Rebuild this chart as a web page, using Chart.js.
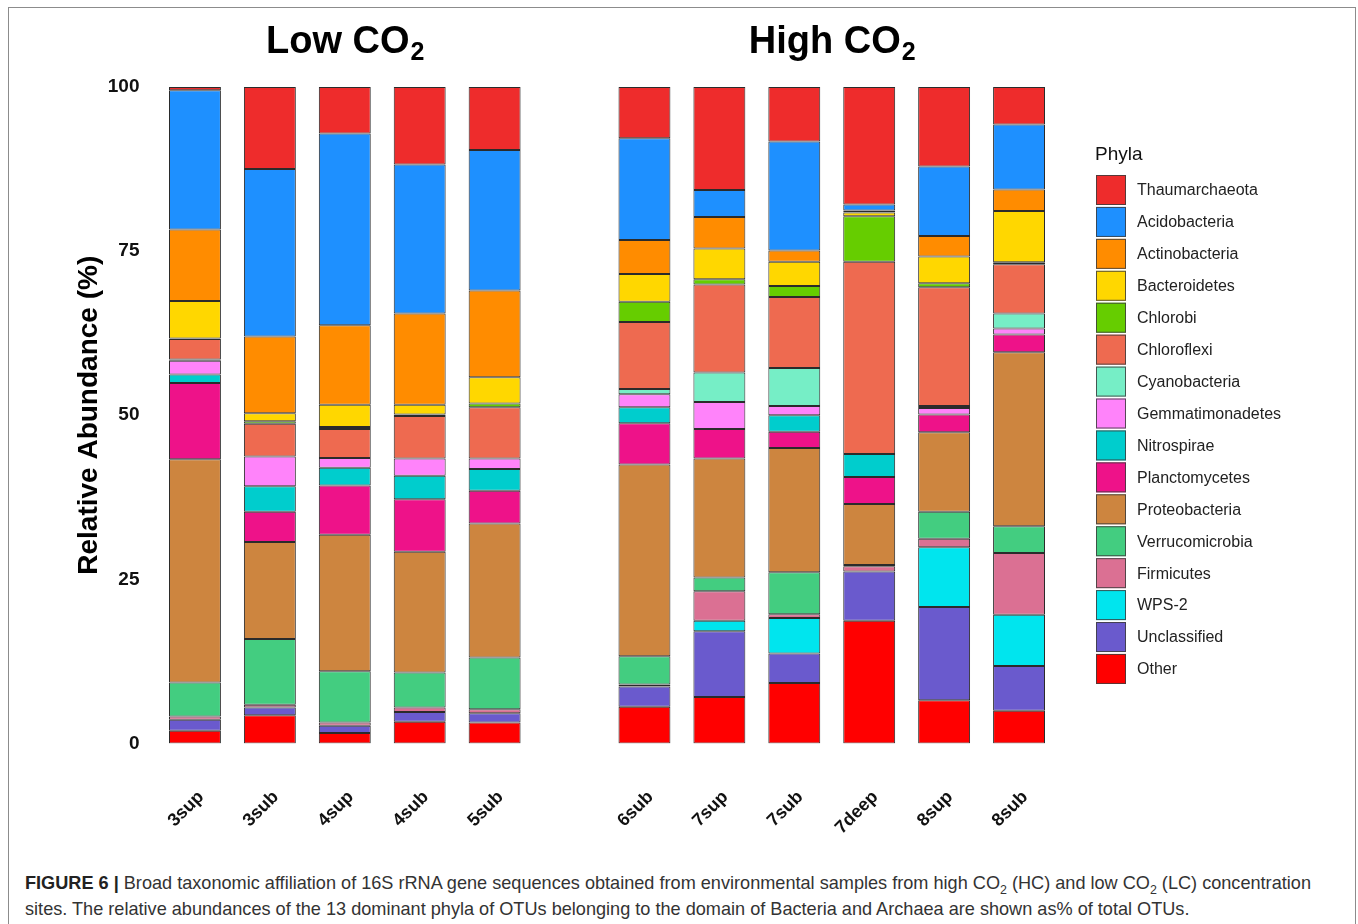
<!DOCTYPE html>
<html>
<head>
<meta charset="utf-8">
<script src="https://cdn.jsdelivr.net/npm/chart.js@4.4.1/dist/chart.umd.min.js"></script>
<style>
  html, body { margin: 0; padding: 0; background: #fff; }
  body { width: 1358px; height: 924px; overflow: hidden; position: relative; font-family: "Liberation Sans", Arial, sans-serif; }
  #frame { position: absolute; left: 8px; top: 7px; width: 1348px; height: 980px; border: 1px solid #8c8c8c; box-sizing: border-box; }
  #chart { position: absolute; left: 0; top: 0; }
  #caption { position: absolute; left: 25px; top: 870px; font-family: "Liberation Sans", Arial, sans-serif; font-size: 19px; line-height: 26px; color: #333; white-space: nowrap; transform-origin: 0 0; }
  #caption span { display: inline-block; }
  #caption b { color: #222; }
  #caption sub { font-size: 13px; line-height: 0; }
</style>
</head>
<body>
<div id="frame"></div>
<canvas id="chart" width="1358" height="860"></canvas>
<div id="caption"><span id="capLine1"><b>FIGURE 6 |</b> Broad taxonomic affiliation of 16S rRNA gene sequences obtained from environmental samples from high CO<sub>2</sub> (HC) and low CO<sub>2</sub> (LC) concentration</span><br><span>sites. The relative abundances of the 13 dominant phyla of OTUs belonging to the domain of Bacteria and Archaea are shown as% of total OTUs.</span></div>
<script>
// Samples: the first five are low-CO2 sites, the rest high-CO2 sites
const samples = ['3sup', '3sub', '4sup', '4sub', '5sub', '6sub', '7sup', '7sub', '7deep', '8sup', '8sub'];
const lowCount = 5;
const yTicks = [0, 25, 50, 75, 100];

// Relative abundance (%) per phylum, one value per sample
const thaumarchaeota   = [0.5, 12.5, 7.1, 11.8, 9.6, 7.8, 15.7, 8.3, 17.9, 12.1, 5.7];
const acidobacteria    = [21.2, 25.5, 29.2, 22.7, 21.4, 15.5, 4.1, 16.6, 0.9, 10.6, 9.9];
const actinobacteria   = [10.9, 11.7, 12.1, 13.9, 13.2, 5.2, 4.8, 1.7, 0.3, 3.1, 3.3];
const bacteroidetes    = [5.7, 1.2, 3.4, 1.5, 4.0, 4.2, 4.7, 3.7, 0.6, 4.1, 7.8];
const chlorobi         = [0.1, 0.4, 0.3, 0.2, 0.6, 3.1, 0.8, 1.7, 6.9, 0.6, 0.3];
const chloroflexi      = [3.1, 5.0, 4.4, 6.5, 7.8, 10.2, 13.4, 10.8, 29.3, 18.1, 7.5];
const cyanobacteria    = [0.2, 0, 0, 0, 0, 0.8, 4.5, 5.8, 0, 0.3, 2.3];
const gemmatimonadetes = [2.1, 4.5, 1.5, 2.6, 1.6, 2.0, 4.1, 1.4, 0, 1.0, 0.9];
const nitrospirae      = [1.3, 3.9, 2.7, 3.6, 3.3, 2.4, 0, 2.5, 3.5, 0, 0];
const planctomycetes   = [11.6, 4.6, 7.5, 8.0, 5.0, 6.3, 4.5, 2.5, 4.1, 2.7, 2.7];
const proteobacteria   = [34.0, 14.8, 20.8, 18.4, 20.4, 29.2, 18.1, 18.9, 9.3, 12.1, 26.5];
const verrucomicrobia  = [5.2, 10.0, 7.8, 5.3, 7.9, 4.3, 2.1, 6.4, 0.2, 4.1, 4.1];
const firmicutes       = [0.5, 0.4, 0.5, 0.7, 0.6, 0.3, 4.5, 0.6, 0.8, 1.3, 9.4];
const wps2             = [0, 0, 0, 0, 0, 0, 1.6, 5.4, 0, 9.1, 7.8];
const unclassified     = [1.65, 1.2, 1.1, 1.5, 1.4, 3.1, 10.0, 4.5, 7.5, 14.2, 6.8];
const other            = [1.95, 4.3, 1.6, 3.3, 3.2, 5.6, 7.1, 9.2, 18.7, 6.6, 5.0];

// Legend order (top of each stack first)
const phyla = [
  ['Thaumarchaeota', thaumarchaeota, '#EE2C2C'],
  ['Acidobacteria', acidobacteria, '#1E90FF'],
  ['Actinobacteria', actinobacteria, '#FF8C00'],
  ['Bacteroidetes', bacteroidetes, '#FFD700'],
  ['Chlorobi', chlorobi, '#66CD00'],
  ['Chloroflexi', chloroflexi, '#EE6A50'],
  ['Cyanobacteria', cyanobacteria, '#76EEC6'],
  ['Gemmatimonadetes', gemmatimonadetes, '#FF83FA'],
  ['Nitrospirae', nitrospirae, '#00CDCD'],
  ['Planctomycetes', planctomycetes, '#EE1289'],
  ['Proteobacteria', proteobacteria, '#CD853F'],
  ['Verrucomicrobia', verrucomicrobia, '#43CD80'],
  ['Firmicutes', firmicutes, '#DB7093'],
  ['WPS-2', wps2, '#00E5EE'],
  ['Unclassified', unclassified, '#6A5ACD'],
  ['Other', other, '#FF0000']
];

// An empty slot separates the two site groups on the category axis
const withGap = arr => [...arr.slice(0, lowCount), null, ...arr.slice(lowCount)];
const labels = withGap(samples).map(s => s === null ? '' : s);

// Stacks are built bottom-up, so the legend order is reversed
const datasets = phyla.slice().reverse().map(([name, values, colour]) => ({
  label: name,
  data: withGap(values),
  backgroundColor: colour,
  borderColor: 'rgba(20,20,20,0.9)',
  borderWidth: 1,
  borderSkipped: false,
  barPercentage: 0.693,
  categoryPercentage: 1.0
}));

const decorations = {
  id: 'decorations',
  afterDraw(chart) {
    const ctx = chart.ctx;
    const xs = chart.scales.x;
    ctx.save();

    // Group titles with subscript
    const drawTitle = (prefix, cx) => {
      const big = 'bold 38px "Liberation Sans", Arial, sans-serif';
      const small = 'bold 25px "Liberation Sans", Arial, sans-serif';
      ctx.font = big; const w1 = ctx.measureText(prefix).width;
      ctx.font = small; const w2 = ctx.measureText('2').width;
      const x0 = cx - (w1 + w2) / 2;
      ctx.fillStyle = '#000';
      ctx.textBaseline = 'alphabetic';
      ctx.textAlign = 'left';
      ctx.font = big; ctx.fillText(prefix, x0, 53);
      ctx.font = small; ctx.fillText('2', x0 + w1 + 1, 60);
    };
    const lowCx = (xs.getPixelForValue(0) + xs.getPixelForValue(lowCount - 1)) / 2;
    const highCx = (xs.getPixelForValue(lowCount + 1) + xs.getPixelForValue(samples.length)) / 2;
    drawTitle('Low CO', lowCx);
    drawTitle('High CO', highCx);

    // Y axis title
    ctx.save();
    ctx.translate(89, (chart.chartArea.top + chart.chartArea.bottom) / 2);
    ctx.rotate(-Math.PI / 2);
    ctx.font = 'bold 28px "Liberation Sans", Arial, sans-serif';
    ctx.textAlign = 'center';
    ctx.textBaseline = 'middle';
    ctx.fillStyle = '#000';
    ctx.fillText('Relative Abundance (%)', 0, 0);
    ctx.restore();

    // Legend
    const lx = 1096, ly0 = 175, step = 31.93, box = 30;
    ctx.font = '19px "Liberation Sans", Arial, sans-serif';
    ctx.fillStyle = '#111';
    ctx.textAlign = 'left';
    ctx.textBaseline = 'middle';
    ctx.fillText('Phyla', 1095, 155);
    ctx.font = '16px "Liberation Sans", Arial, sans-serif';
    phyla.forEach(([name, , colour], i) => {
      const y = ly0 + i * step;
      ctx.fillStyle = colour;
      ctx.fillRect(lx, y, box, box);
      ctx.strokeStyle = 'rgba(60,60,60,0.85)';
      ctx.lineWidth = 1;
      ctx.strokeRect(lx + 0.5, y + 0.5, box - 1, box - 1);
      ctx.fillStyle = '#222';
      ctx.fillText(name, 1137, y + box / 2 + 1);
    });
    ctx.restore();
  }
};

new Chart(document.getElementById('chart'), {
  type: 'bar',
  data: { labels, datasets },
  options: {
    responsive: false,
    animation: false,
    layout: { padding: { top: 87, right: 301.5, bottom: 0, left: 0 } },
    plugins: { legend: { display: false }, tooltip: { enabled: false }, title: { display: false } },
    scales: {
      x: {
        stacked: true,
        offset: true,
        grid: { display: false },
        border: { display: false },
        ticks: {
          autoSkip: false,
          maxRotation: 45,
          minRotation: 45,
          padding: 35,
          labelOffset: 6,
          color: '#111',
          font: { family: '"Liberation Sans", Arial, sans-serif', size: 18, weight: 'bold' }
        },
        afterFit(scale) { scale.height = 860 - 743.5; }
      },
      y: {
        stacked: true,
        min: 0,
        max: 100,
        grid: { display: false },
        border: { display: false },
        afterBuildTicks(scale) { scale.ticks = yTicks.map(v => ({ value: v })); },
        ticks: {
          padding: 10,
          color: '#111',
          font: { family: '"Liberation Sans", Arial, sans-serif', size: 19, weight: 'bold' }
        },
        afterFit(scale) { scale.width = 157.5; }
      }
    }
  },
  plugins: [decorations]
});

// The caption face is a condensed sans; squeeze the regular face to the same measure
const cap = document.getElementById('caption');
const line1 = document.getElementById('capLine1');
const squeeze = 1286 / line1.getBoundingClientRect().width;
cap.style.transform = 'scaleX(' + squeeze.toFixed(4) + ')';
</script>
</body>
</html>
